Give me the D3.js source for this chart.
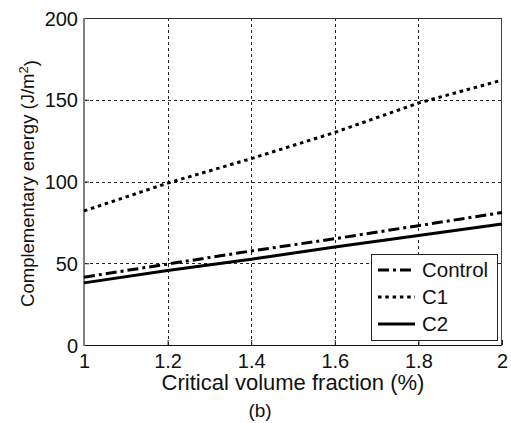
<!DOCTYPE html>
<html>
<head>
<meta charset="utf-8">
<script src="https://cdn.jsdelivr.net/npm/d3@7"></script>
<style>
  body { margin: 0; background: #fff; }
  svg text { font-family: "Liberation Sans", Arial, sans-serif; fill: #111; }
</style>
</head>
<body>
<div id="chart"></div>
<script>
// values
const xValues = [1, 1.2, 1.4, 1.6, 1.8, 2];
const controlValues = [41.5, 49.5, 57.5, 65, 73, 81];
const c1Values = [82, 99, 114, 130, 148, 162];
const c2Values = [38, 45.5, 52.5, 60, 67, 74];
const seriesNames = ["Control", "C1", "C2"];
const xTicks = [1, 1.2, 1.4, 1.6, 1.8, 2];
const yTicks = [0, 50, 100, 150, 200];

// line style per series (dash-dot, dotted, solid)
const seriesDash = {
    "Control": "11,4,3,4",
    "C1": "3.5,3.8",
    "C2": null
};

const series = [
    { name: "Control", values: controlValues },
    { name: "C1", values: c1Values },
    { name: "C2", values: c2Values }
];

const margin = { top: 18, right: 9, bottom: 78, left: 84 };
const width = 511 - margin.left - margin.right;
const height = 423 - margin.top - margin.bottom;

const svg = d3.select("#chart").append("svg")
    .attr("width", 511)
    .attr("height", 423)
    .append("g")
    .attr("transform", `translate(${margin.left},${margin.top})`);

const xScale = d3.scaleLinear().domain([1, 2]).range([0, width]);
const yScale = d3.scaleLinear().domain([0, 200]).range([height, 0]);

// dashed grid
svg.append("g")
    .selectAll("line")
    .data(xTicks.slice(1, -1))
    .join("line")
    .attr("x1", d => Math.round(xScale(d)) + 0.5)
    .attr("x2", d => Math.round(xScale(d)) + 0.5)
    .attr("y1", 0)
    .attr("y2", height)
    .attr("stroke", "#222")
    .attr("stroke-dasharray", "3,3");

svg.append("g")
    .selectAll("line")
    .data(yTicks.slice(1, -1))
    .join("line")
    .attr("x1", 0)
    .attr("x2", width)
    .attr("y1", d => Math.round(yScale(d)) + 0.5)
    .attr("y2", d => Math.round(yScale(d)) + 0.5)
    .attr("stroke", "#222")
    .attr("stroke-dasharray", "3,3");

// axes, ticks pointing inward
const xAxis = svg.append("g")
    .attr("transform", `translate(0,${height})`)
    .call(d3.axisBottom(xScale).tickValues(xTicks).tickSizeInner(-5).tickSizeOuter(0).tickPadding(10)
        .tickFormat(d3.format("")));
const yAxis = svg.append("g")
    .call(d3.axisLeft(yScale).tickValues(yTicks).tickSizeInner(-5).tickSizeOuter(0).tickPadding(6));

[xAxis, yAxis].forEach(ax => {
    ax.select(".domain").remove();
    ax.selectAll("line").attr("stroke", "#222");
    ax.selectAll("text")
        .style("font-size", "20px")
        .attr("fill", "#111");
});
xAxis.selectAll("text").attr("dy", "0.75em").attr("y", 8);
yAxis.selectAll("text").attr("dy", "0.36em");

// box around plot
svg.append("line").attr("x1", 0).attr("x2", width).attr("y1", 0.5).attr("y2", 0.5).attr("stroke", "#333");
svg.append("line").attr("x1", width - 0.5).attr("x2", width - 0.5).attr("y1", 0).attr("y2", height).attr("stroke", "#444");
svg.append("line").attr("x1", 0).attr("x2", width).attr("y1", height + 0.5).attr("y2", height + 0.5).attr("stroke", "#111");
svg.append("line").attr("x1", 0).attr("x2", 0).attr("y1", 0).attr("y2", height + 1).attr("stroke", "#808080").attr("stroke-width", 2);

// series lines
const line = d3.line()
    .x((d, i) => xScale(xValues[i]))
    .y(d => yScale(d));

series.forEach(s => {
    svg.append("path")
        .datum(s.values)
        .attr("fill", "none")
        .attr("stroke", "#000")
        .attr("stroke-width", 3)
        .attr("stroke-dasharray", seriesDash[s.name])
        .attr("d", line);
});

// legend
const legW = 126, legH = 86;
const legend = svg.append("g")
    .attr("transform", `translate(${width - 5 - legW},${height - 5 - legH})`);
legend.append("rect")
    .attr("x", 0.5).attr("y", 0.5)
    .attr("width", legW).attr("height", legH)
    .attr("fill", "#fff")
    .attr("stroke", "#222");

seriesNames.forEach((name, i) => {
    const yy = 16 + i * 27;
    legend.append("line")
        .attr("x1", 7).attr("x2", 44)
        .attr("y1", yy).attr("y2", yy)
        .attr("stroke", "#000")
        .attr("stroke-width", 3)
        .attr("stroke-dasharray", seriesDash[name]);
    legend.append("text")
        .attr("x", 51)
        .attr("y", yy)
        .attr("dy", "0.36em")
        .style("font-size", "20.5px")
        .text(name);
});

// axis titles
svg.append("text")
    .attr("x", width / 2)
    .attr("y", height + 45)
    .attr("text-anchor", "middle")
    .style("font-size", "22px")
    .text("Critical volume fraction (%)");

const yTitle = svg.append("text")
    .attr("transform", `translate(${-margin.left + 34},${height / 2 + 2}) rotate(-90)`)
    .attr("text-anchor", "middle")
    .style("font-size", "18.5px");
yTitle.append("tspan").text("Complementary energy (J/m");
yTitle.append("tspan").attr("dy", "-0.5em").style("font-size", "13px").text("2");
yTitle.append("tspan").attr("dy", "0.5em").text(")");

svg.append("text")
    .attr("x", 260 - margin.left)
    .attr("y", 417 - margin.top)
    .attr("text-anchor", "middle")
    .style("font-size", "19px")
    .attr("fill", "#333")
    .text("(b)");
</script>
</body>
</html>
